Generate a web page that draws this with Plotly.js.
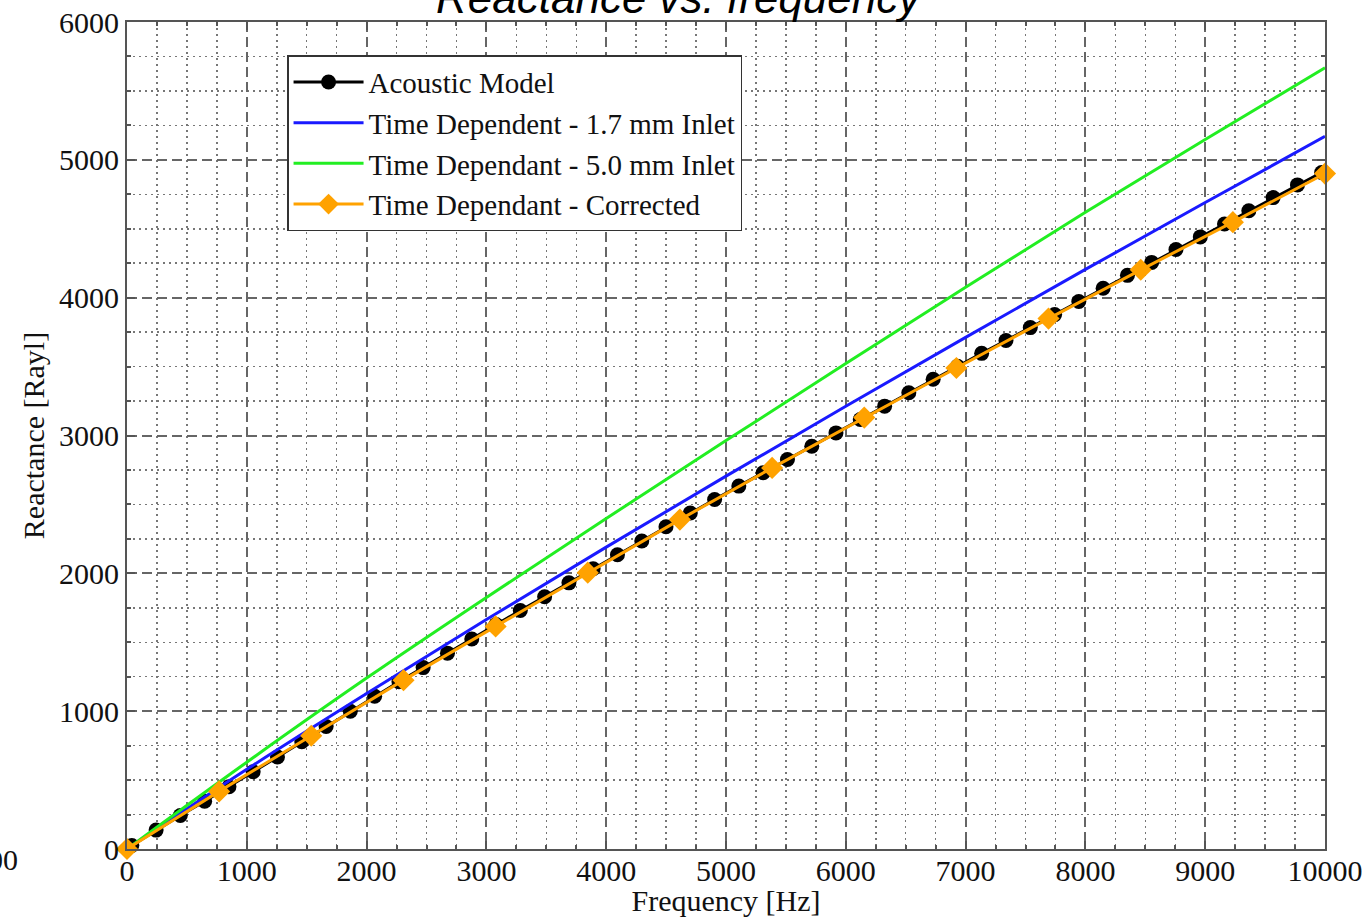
<!DOCTYPE html>
<html>
<head>
<meta charset="utf-8">
<script src="https://cdn.plot.ly/plotly-3.0.1.min.js"></script>
<style>html,body{margin:0;padding:0;background:#fff;}#chart{width:1363px;height:917px;}</style>
</head>
<body>
<div id="chart"></div>
<script>
// Acoustic Model (black circles)
const acousticFreq = [40,243,445,648,851,1053,1256,1459,1662,1864,
  2067,2270,2472,2675,2878,3080,3283,3486,3689,3891,
  4094,4297,4499,4702,4905,5107,5310,5513,5716,5918,
  6121,6324,6526,6729,6932,7134,7337,7540,7743,7945,
  8148,8351,8553,8756,8959,9161,9364,9567,9770,9972];
const acousticReact = [25,137,243,347,452,560,668,778,889,999,
  1108,1214,1316,1421,1524,1628,1730,1830,1931,2033,
  2135,2235,2338,2438,2536,2633,2730,2826,2922,3019,
  3116,3213,3310,3408,3502,3596,3689,3783,3877,3972,
  4068,4162,4256,4349,4441,4535,4631,4726,4818,4908];

// Time dependent curves (read every 1000 Hz)
const tdFreq = [0,1000,2000,3000,4000,5000,6000,7000,8000,9000,10000];
const td17React = [0,578,1128,1665,2190,2705,3212,3712,4205,4690,5170];
const td50React = [0,630,1240,1825,2398,2963,3522,4075,4620,5148,5668];

// Corrected (orange diamonds)
const corrFreq = [0,769,1538,2308,3077,3846,4615,5385,6154,6923,7692,8462,9231,10000];
const corrReact = [0,418,822,1225,1615,2005,2390,2765,3130,3490,3848,4202,4548,4900];

const seriesNames = ["Acoustic Model","Time Dependent - 1.7 mm Inlet","Time Dependant - 5.0 mm Inlet","Time Dependant - Corrected"];
const xTitle = "Frequency [Hz]";
const yTitle = "Reactance [Rayl]";
const chartTitle = "Reactance vs. frequency";
const strayLabel = "000";

const serif = "Liberation Serif, Times New Roman, serif";

const traces = [
  {x: acousticFreq, y: acousticReact, name: seriesNames[0], mode: "lines+markers",
   line: {color: "#000", width: 3}, marker: {color: "#000", size: 15, symbol: "circle"}, cliponaxis: false},
  {x: tdFreq, y: td17React, name: seriesNames[1], mode: "lines", line: {color: "#1a1aff", width: 3, shape: "spline"}},
  {x: tdFreq, y: td50React, name: seriesNames[2], mode: "lines", line: {color: "#22ee22", width: 3, shape: "spline"}},
  {x: corrFreq, y: corrReact, name: seriesNames[3], mode: "lines+markers",
   line: {color: "#ffa200", width: 3}, marker: {color: "#ffa200", size: 17, symbol: "diamond"}, cliponaxis: false}
];

const axisCommon = {
  showline: true, linecolor: "#555", linewidth: 2, mirror: "ticks",
  ticks: "inside", ticklen: 8, tickwidth: 2, tickcolor: "#555",
  showgrid: true, gridcolor: "#666", gridwidth: 2, griddash: "10px,5px",
  zeroline: false, tickformat: "d", separatethousands: false,
  tickfont: {family: serif, size: 30, color: "#111"},
  minor: {dtick: 250, showgrid: true, gridcolor: "#777", gridwidth: 1.5, griddash: "2px,4px",
          ticks: "inside", ticklen: 4, tickcolor: "#555"}
};

const layout = {
  width: 1363, height: 917,
  margin: {l: 127, r: 38, t: 22, b: 68},
  paper_bgcolor: "#fff", plot_bgcolor: "#fff",
  showlegend: true,
  xaxis: Object.assign({}, axisCommon, {range: [0, 10000], dtick: 1000, tick0: 0, ticklabelstandoff: -6,
    title: {text: xTitle, font: {family: serif, size: 30, color: "#111"}, standoff: 2}}),
  yaxis: Object.assign({}, axisCommon, {range: [0, 6000], dtick: 1000, tick0: 0,
    title: {text: yTitle, font: {family: serif, size: 30, color: "#111"}, standoff: 6}}),
  legend: {x: 0.1336, y: 0.96, xanchor: "left", yanchor: "top",
    bgcolor: "#fff", bordercolor: "#333", borderwidth: 1.5,
    font: {family: serif, size: 29, color: "#111"}, itemwidth: 70, tracegroupgap: 0},
  annotations: [
    {text: chartTitle, xref: "paper", yref: "paper", x: 0.4616, y: 1.0, xanchor: "center", yanchor: "bottom", yshift: -2,
     showarrow: false, font: {family: "Liberation Sans, Arial, sans-serif", size: 44, style: "italic", color: "#000"}},
    {text: strayLabel, xref: "paper", yref: "paper", x: -0.0927, y: -0.013, xanchor: "right", yanchor: "middle", xshift: 4,
     showarrow: false, font: {family: serif, size: 30, color: "#111"}}
  ]
};

Plotly.newPlot("chart", traces, layout, {displayModeBar: false, staticPlot: true});
</script>
</body>
</html>
